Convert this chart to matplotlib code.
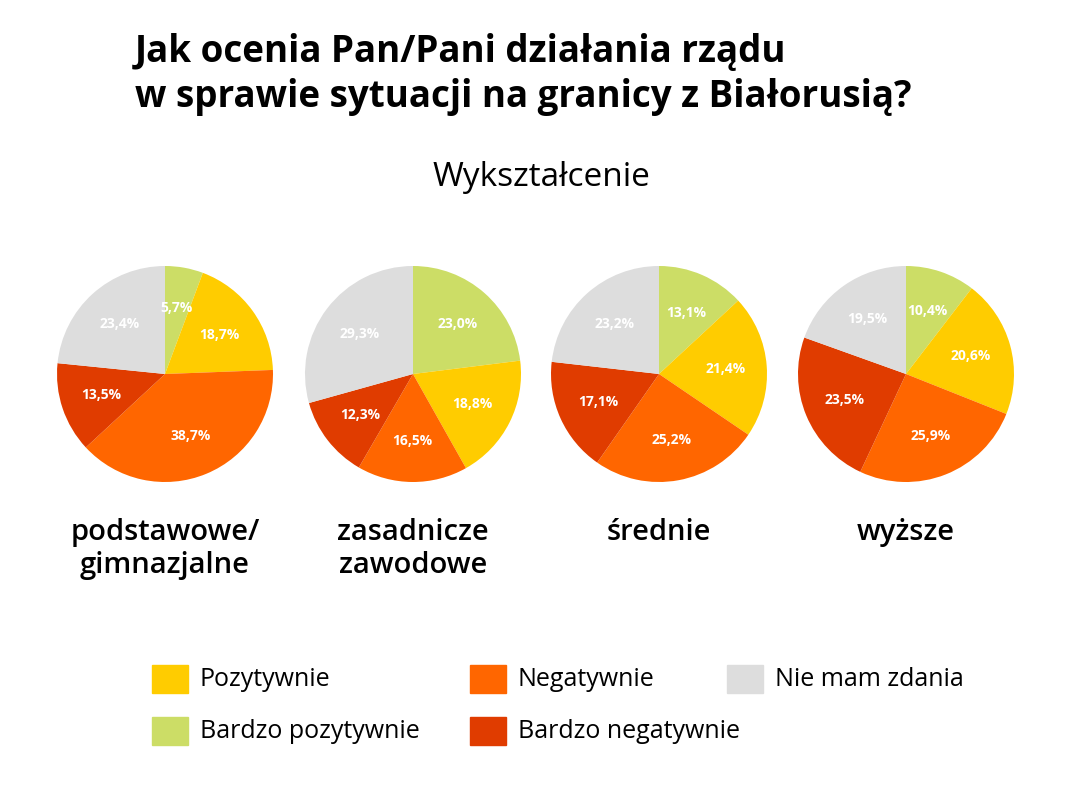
import matplotlib.pyplot as plt
from matplotlib.patches import Rectangle

plt.rcParams['font.family'] = ['Open Sans', 'DejaVu Sans']

groups = ['podstawowe/\ngimnazjalne', 'zasadnicze\nzawodowe', 'średnie', 'wyższe']
answers = ['Bardzo pozytywnie', 'Pozytywnie', 'Negatywnie', 'Bardzo negatywnie', 'Nie mam zdania']
values = [
    [5.7, 18.7, 38.7, 13.5, 23.4],
    [23.0, 18.8, 16.5, 12.3, 29.3],
    [13.1, 21.4, 25.2, 17.1, 23.2],
    [10.4, 20.6, 25.9, 23.5, 19.5],
]
colors = ['#CCDD66', '#FFCC00', '#FF6600', '#E03C00', '#DDDDDD']

W, H = 1080, 800
fig = plt.figure(figsize=(W / 100, H / 100), dpi=100)

fig.text(135 / W, 1 - 52 / H, 'Jak ocenia Pan/Pani działania rządu', fontsize=26.5,
         fontweight='bold', va='center', ha='left')
fig.text(135 / W, 1 - 97 / H, 'w sprawie sytuacji na granicy z Białorusią?', fontsize=26.5,
         fontweight='bold', va='center', ha='left')
fig.text(541 / W, 1 - 178 / H, 'Wykształcenie', fontsize=24, va='center', ha='center')

centers = [165, 413, 659, 906]
r = 108
for cx, vals, name in zip(centers, values, groups):
    ax = fig.add_axes([(cx - r) / W, (H - 374 - r) / H, 2 * r / W, 2 * r / H])
    ax.pie(vals, colors=colors, startangle=90, counterclock=False,
           autopct=lambda p: f'{p:.1f}%'.replace('.', ','), pctdistance=0.62,
           textprops=dict(color='white', fontsize=10, fontweight='bold'))
    ax.set_xlim(-1, 1)
    ax.set_ylim(-1, 1)
    ax.set_aspect('equal')
    fig.text(cx / W, 1 - 518 / H, name, fontsize=21, fontweight='semibold',
             ha='center', va='top', linespacing=1.2)

legend_items = [('Pozytywnie', 1, 152, 679), ('Negatywnie', 2, 470, 679),
                ('Nie mam zdania', 4, 727, 679), ('Bardzo pozytywnie', 0, 152, 731),
                ('Bardzo negatywnie', 3, 470, 731)]
for label, ci, x, y in legend_items:
    fig.patches.append(Rectangle((x / W, (H - y - 14) / H), 36 / W, 28 / H,
                                 transform=fig.transFigure, color=colors[ci]))
    fig.text((x + 48) / W, 1 - y / H, label, fontsize=18, va='center', ha='left')

fig.savefig('out.png', dpi=100, facecolor='white')
